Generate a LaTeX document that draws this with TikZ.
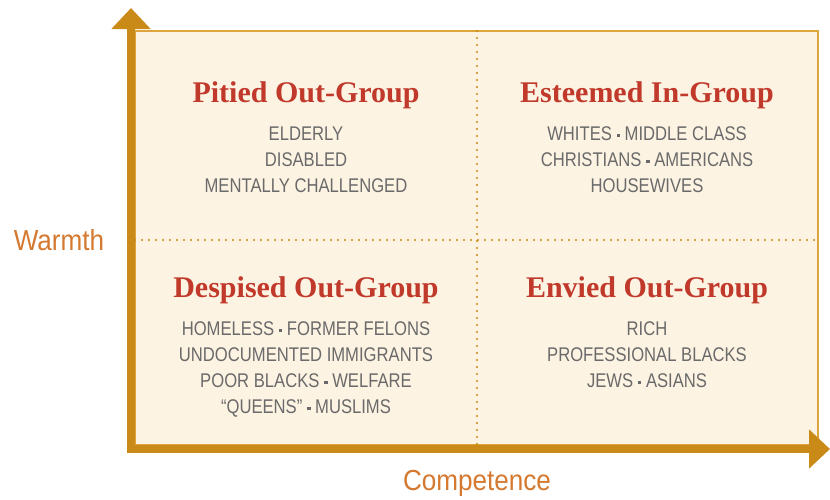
\documentclass[tikz,border=0pt]{standalone}
\usepackage{fontspec}
\setmainfont{Liberation Serif}
\newfontfamily\itemfont[FakeStretch=0.84]{Liberation Sans}
\newfontfamily\axisfont[FakeStretch=0.9]{Liberation Sans}
\usetikzlibrary{positioning}
\usetikzlibrary{arrows.meta}
\definecolor{axisgold}{HTML}{C98A17}
\definecolor{boxline}{HTML}{DDA53C}
\definecolor{boxfill}{HTML}{FDF3E3}
\definecolor{titlered}{HTML}{C0392B}
\definecolor{itemgray}{HTML}{6A6A6A}
\definecolor{axisorange}{HTML}{D4792F}
\newcommand{\sq}{ \rule[0.3ex]{0.34ex}{0.34ex} }

\begin{document}
\begin{tikzpicture}[x=1pt,y=-1pt,node distance=17.5pt,
		title/.style={font=\bfseries\fontsize{30}{33}\selectfont,text=titlered,inner sep=0pt},
		items/.style={font=\itemfont\fontsize{19.8}{26}\selectfont,text=itemgray,align=center,inner sep=0pt},
		axislabel/.style={font=\axisfont\fontsize{29}{32}\selectfont,text=axisorange,inner sep=0pt},
		axis/.style={line width=8pt,draw=axisgold,-{Triangle[length=21pt,width=38pt]}},
		divider/.style={draw=axisgold,line width=2.3pt,line cap=round,dash pattern=on 0pt off 7pt}]
		\useasboundingbox (0,0) rectangle (830,499);
		
		% quadrant box
		\coordinate (nw) at (135,31);
		\coordinate (se) at (818,445);
		\draw[boxline,fill=boxfill,line width=1.5pt] (nw) rectangle (se);
		\coordinate (midtop) at (477,31);
		\coordinate (midbot) at (477,445);
		\coordinate (midleft) at (135,240);
		\coordinate (midright) at (818,240);
		\draw[divider] (midtop) -- (midbot);
		\draw[divider] (midleft) -- (midright);
		
		% axes
		\coordinate (origin) at (131,449);
		\coordinate (wtip) at (131,8);
		\coordinate (ctip) at (830,449);
		\draw[axis] (131,453) -- (wtip);
		\draw[axis] (127,449) -- (ctip);
		\node[axislabel] (warmth) at (59,240) {Warmth};
		\node[axislabel] (competence) at (477,483) {Competence};
		
		% quadrants
		\node[title] (pitied) at (306,95) {Pitied Out-Group};
		\node[items] (pitiedlist) [below=of pitied] {ELDERLY\\DISABLED\\MENTALLY CHALLENGED};
		
		\node[title] (esteemed) at (647,95) {Esteemed In-Group};
		\node[items] (esteemedlist) [below=of esteemed] {WHITES\sq MIDDLE CLASS\\CHRISTIANS\sq AMERICANS\\HOUSEWIVES};
		
		\node[title] (despised) at (306,290) {Despised Out-Group};
		\node[items] (despisedlist) [below=of despised] {HOMELESS\sq FORMER FELONS\\UNDOCUMENTED IMMIGRANTS\\POOR BLACKS\sq WELFARE\\“QUEENS”\sq MUSLIMS};
		
		\node[title] (envied) at (647,290) {Envied Out-Group};
		\node[items] (enviedlist) [below=of envied] {RICH\\PROFESSIONAL BLACKS\\JEWS\sq ASIANS};
		\end{tikzpicture}
\end{document}
